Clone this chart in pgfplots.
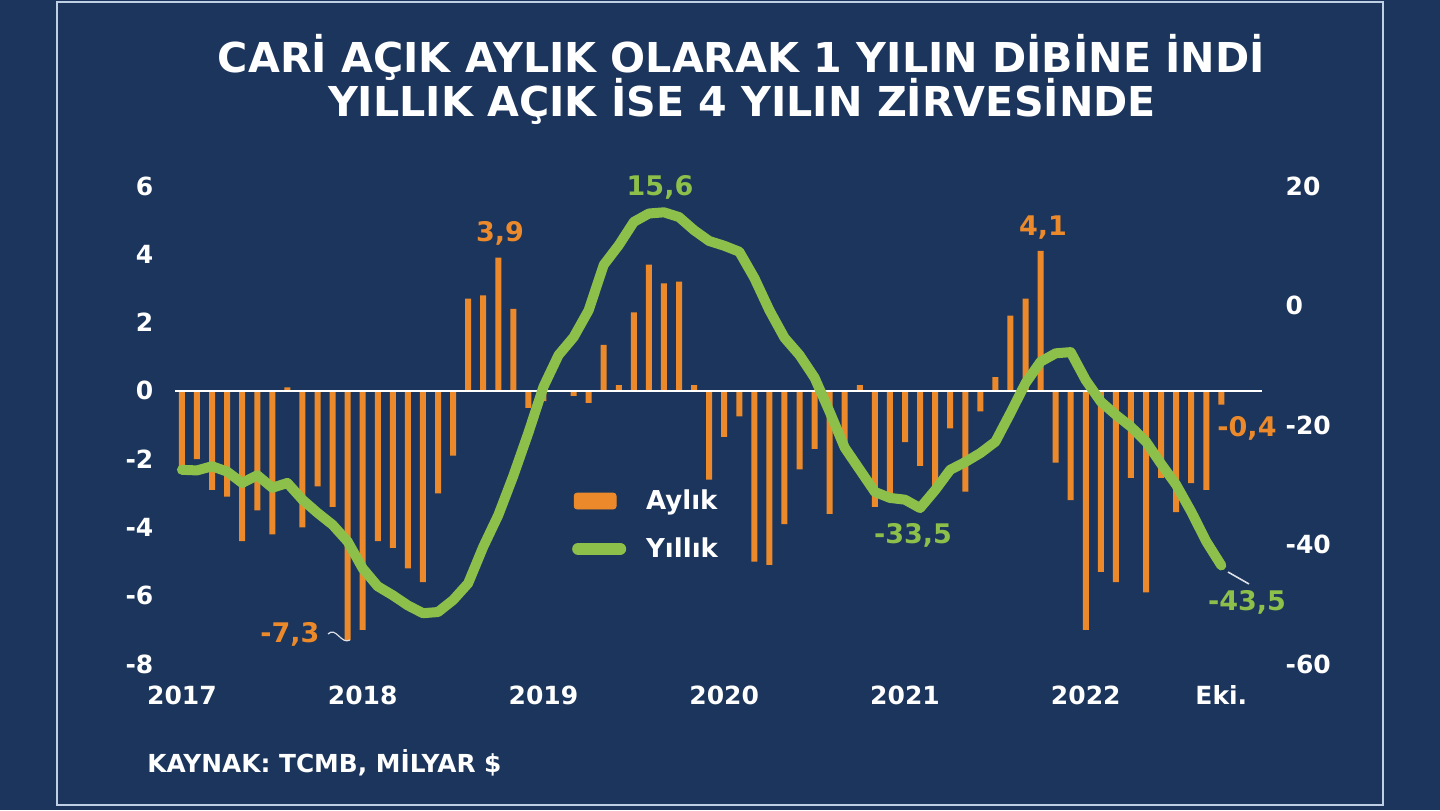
\documentclass[border=0pt]{standalone}
\usepackage{fontspec}
\setmainfont{DejaVu Sans}
\usepackage{pgfplots}
\usepackage{pgfplotstable}
\pgfplotsset{compat=1.18}
\definecolor{bgc}{RGB}{27,53,92}
\definecolor{barc}{RGB}{236,138,43}
\definecolor{linec}{RGB}{141,192,74}
\definecolor{bordc}{RGB}{190,208,228}
\newcommand\fs[1]{\fontsize{#1}{#1}\selectfont\bfseries}

\pgfplotstableread{
i bar
0 -2.4
1 -2.0
2 -2.9
3 -3.1
4 -4.4
5 -3.5
6 -4.2
7 0.1
8 -4.0
9 -2.8
10 -3.4
11 -7.3
12 -7.0
13 -4.4
14 -4.6
15 -5.2
16 -5.6
17 -3.0
18 -1.9
19 2.7
20 2.8
21 3.9
22 2.4
23 -0.5
24 -0.3
25 0.0
26 -0.15
27 -0.35
28 1.35
29 0.17
30 2.3
31 3.7
32 3.15
33 3.2
34 0.17
35 -2.6
36 -1.35
37 -0.75
38 -5.0
39 -5.1
40 -3.9
41 -2.3
42 -1.7
43 -3.6
44 -1.6
45 0.17
46 -3.4
47 -3.05
48 -1.5
49 -2.2
50 -2.9
51 -1.1
52 -2.95
53 -0.6
54 0.4
55 2.2
56 2.7
57 4.1
58 -2.1
59 -3.2
60 -7.0
61 -5.3
62 -5.6
63 -2.55
64 -5.9
65 -2.55
66 -3.55
67 -2.7
68 -2.9
69 -0.4
}\bars

\pgfplotstableread{
i yr
0 -27.5
1 -27.6
2 -26.9
3 -27.8
4 -29.7
5 -28.4
6 -30.5
7 -29.7
8 -32.5
9 -34.7
10 -36.7
11 -39.5
12 -44.0
13 -47.0
14 -48.5
15 -50.2
16 -51.5
17 -51.3
18 -49.3
19 -46.5
20 -40.4
21 -35.1
22 -28.5
23 -21.3
24 -13.6
25 -8.3
26 -5.3
27 -0.8
28 6.8
29 10.1
30 14.0
31 15.4
32 15.6
33 14.8
34 12.6
35 10.8
36 10.0
37 9.0
38 4.6
39 -0.8
40 -5.4
41 -8.3
42 -12.1
43 -17.8
44 -23.8
45 -27.5
46 -31.2
47 -32.2
48 -32.5
49 -33.9
50 -30.9
51 -27.5
52 -26.2
53 -24.7
54 -22.8
55 -18.0
56 -13.0
57 -9.4
58 -8.0
59 -7.8
60 -12.5
61 -16.1
62 -18.3
63 -20.3
64 -22.8
65 -26.5
66 -30.0
67 -34.5
68 -39.5
69 -43.5
}\yearly

\begin{document}
\begin{tikzpicture}
\fill[bgc] (0pt,0pt) rectangle (720pt,405pt);
\begin{scope}[x=0.5pt,y=-0.5pt,yshift=405pt]
\draw[bordc, line width=1pt] (57,2) rectangle (1383,805);
\end{scope}

\begin{axis}[
  at={(87.5pt,73pt)}, anchor=south west,
  scale only axis, width=543.5pt, height=239pt,
  xmin=-0.46, xmax=71.7, ymin=-8, ymax=6,
  axis line style={draw=none}, major tick length=0pt,
  ytick={-8,-6,...,6},
  xtick={0,12,24,36,48,60,69},
  xticklabels={2017,2018,2019,2020,2021,2022,Eki.},
  /pgf/number format/assume math mode=true,
  tick label style={text=white, font=\fs{12.5}},
  yticklabel style={xshift=-7.3pt},
  xticklabel style={yshift=-7.3pt},
  clip=false,
]
\addplot[ybar, bar width=3pt, fill=barc, draw=none] table[x=i,y=bar]{\bars};
\draw[white, line width=1pt] (axis cs:-0.46,0) -- (axis cs:71.7,0);
\end{axis}

\begin{axis}[
  at={(87.5pt,73pt)}, anchor=south west,
  scale only axis, width=543.5pt, height=239pt,
  xmin=-0.46, xmax=71.7, ymin=-60, ymax=20,
  axis line style={draw=none}, major tick length=0pt,
  hide x axis,
  yticklabel pos=right,
  ytick={-60,-40,...,20},
  /pgf/number format/assume math mode=true,
  tick label style={text=white, font=\fs{12.5}},
  yticklabel style={anchor=west, xshift=8.3pt},
  clip=false,
  legend style={at={(0.365,0.374)}, anchor=north west, draw=none, fill=none,
    text=white, font=\fs{13}, row sep=8.5pt, column sep=8pt, inner sep=0pt,
    nodes={inner sep=2pt}},
  legend cell align=left,
]
\addlegendimage{legend image code/.code={\fill[barc, rounded corners=1.5pt] (0pt,-4pt) rectangle (21pt,4pt);}}
\addlegendentry{Aylık}
\addplot[linec, line width=5pt, line join=round, line cap=round,
  legend image code/.code={\draw[linec, line width=6pt, line cap=round] (2pt,0pt) -- (23pt,0pt);}]
  table[x=i,y=yr]{\yearly};
\addlegendentry{Yıllık}
\end{axis}

\begin{scope}[x=0.5pt,y=-0.5pt,yshift=405pt]
\node[anchor=base, text=white, font=\fs{20.6}] at (741.5,73) {CARİ AÇIK AYLIK OLARAK 1 YILIN DİBİNE İNDİ};
\node[anchor=base, text=white, font=\fs{20.6}] at (742,117) {YILLIK AÇIK İSE 4 YILIN ZİRVESİNDE};
\node[anchor=base west, inner sep=0pt, text=white, font=\fs{12.4}] at (147,772) {KAYNAK: TCMB, MİLYAR \$};
\node[text=barc, font=\fs{13.5}] at (500,233) {3,9};
\node[text=linec, font=\fs{13.5}] at (660,187) {15,6};
\node[text=barc, font=\fs{13.5}] at (1043,228) {4,1};
\node[text=barc, font=\fs{13.5}] at (290,634) {-7,3};
\node[text=linec, font=\fs{13.5}] at (913,535) {-33,5};
\node[text=barc, font=\fs{13.5}] at (1247,428) {-0,4};
\node[text=linec, font=\fs{13.5}] at (1247,602) {-43,5};
\draw[white!85!bgc, line width=0.6pt] (328,634) .. controls (336,626) and (341,645) .. (350,640);
\draw[white!85!bgc, line width=0.8pt] (1228,572) -- (1249,584);
\end{scope}
\pgfresetboundingbox
\useasboundingbox (0pt,0pt) rectangle (720pt,405pt);
\end{tikzpicture}
\end{document}
